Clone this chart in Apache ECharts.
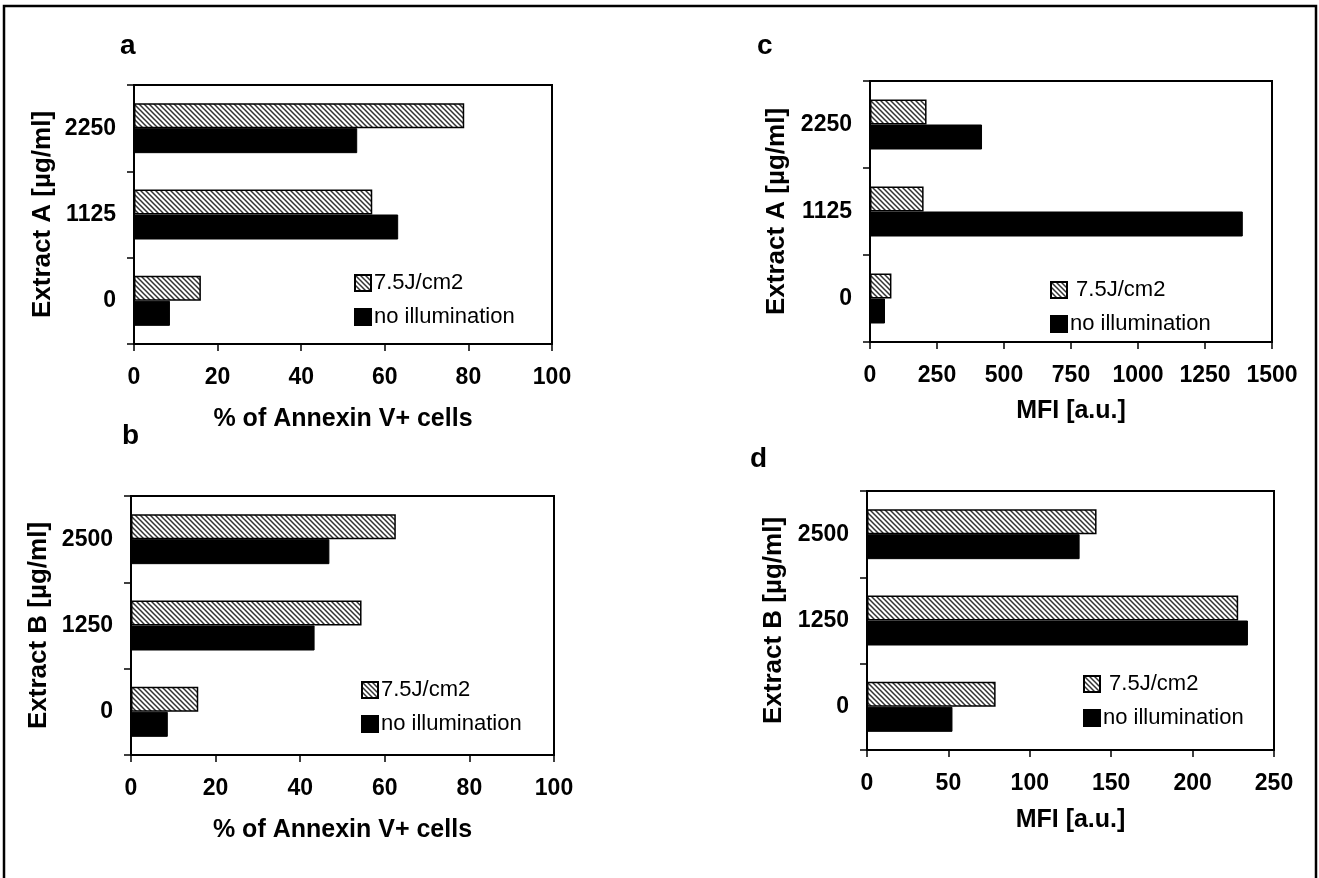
<!DOCTYPE html>
<html>
<head>
<meta charset="utf-8">
<script src="https://cdn.jsdelivr.net/npm/echarts@6/dist/echarts.min.js"></script>
<style>
	html,body{margin:0;padding:0;background:#fff;}
	#fig{width:1319px;height:878px;}
</style>
</head>
<body>
<div id="fig"></div>
<script>
	// categories (bottom to top)
	var catsA = ['0','1125','2250']
	var catsB = ['0','1250','2500']
	// panel a : % Annexin V+, extract A
	var aLight = [16, 57, 79]
	var aDark = [8.6, 63.2, 53.4]
	// panel b : % Annexin V+, extract B
	var bLight = [15.9, 54.5, 62.6]
	var bDark = [8.7, 43.4, 46.9]
	// panel c : MFI, extract A
	var cLight = [80, 200, 211]
	var cDark = [56, 1391, 418]
	// panel d : MFI, extract B
	var dLight = [79, 228, 141]
	var dDark = [52.5, 234, 130.6]

	var LIGHT = '7.5J/cm2'
	var DARK = 'no illumination'
	var FONT = '"Liberation Sans", Arial, Helvetica, sans-serif'

	function hatch(){
		var c = document.createElement('canvas')
		c.width = 5; c.height = 5
		var ctx = c.getContext('2d')
		ctx.fillStyle = '#fff'
		ctx.fillRect(0,0,5,5)
		ctx.strokeStyle = '#333'
		ctx.lineWidth = 1.5
		ctx.beginPath()
		ctx.moveTo(-1,-1); ctx.lineTo(6,6)
		ctx.moveTo(-1,4); ctx.lineTo(1,6)
		ctx.moveTo(4,-1); ctx.lineTo(6,1)
		ctx.stroke()
		return c
	}
	var pat = {image: hatch(), repeat: 'repeat'}

	var grids = [
		{left:134, top:85, width:418, height:259},
		{left:870, top:81, width:402, height:261},
		{left:131, top:496, width:423, height:259},
		{left:867, top:491, width:407, height:259}
	]
	var xs = [
		{max:100, interval:20, name:'% of Annexin V+ cells', gap:63},
		{max:1500, interval:250, name:'MFI [a.u.]', gap:57},
		{max:100, interval:20, name:'% of Annexin V+ cells', gap:63},
		{max:250, interval:50, name:'MFI [a.u.]', gap:58}
	]
	var ys = [
		{cats:catsA, name:'Extract A [\u00b5g/ml]', gap:78},
		{cats:catsA, name:'Extract A [\u00b5g/ml]', gap:80},
		{cats:catsB, name:'Extract B [\u00b5g/ml]', gap:79},
		{cats:catsB, name:'Extract B [\u00b5g/ml]', gap:80}
	]
	var vals = [[aLight,aDark],[cLight,cDark],[bLight,bDark],[dLight,dDark]]
	var legendPos = [
		{left:354, top:272, space:false},
		{left:1050, top:279, space:true},
		{left:361, top:679, space:false},
		{left:1083, top:673, space:true}
	]
	var letters = [
		{t:'a', x:120, y:32},
		{t:'c', x:757, y:32},
		{t:'b', x:122, y:422},
		{t:'d', x:750, y:445}
	]

	var chart = echarts.init(document.getElementById('fig'))
	var option = {
		animation:false,
		backgroundColor:'#fff',
		textStyle:{fontFamily:FONT},
		grid:[], xAxis:[], yAxis:[], series:[], legend:[], title:[],
		graphic:[{
			type:'rect', shape:{x:4, y:6, width:1312, height:900},
			style:{fill:'none', stroke:'#000', lineWidth:2.5}
		}]
	}

	for(var i=0;i<4;i++){
		var g = grids[i]
		option.grid.push({left:g.left, top:g.top, width:g.width, height:g.height,
			show:true, borderColor:'#000', borderWidth:2, backgroundColor:'#fff'})
		option.xAxis.push({
			type:'value', gridIndex:i, min:0, max:xs[i].max, interval:xs[i].interval,
			name:xs[i].name, nameLocation:'middle', nameGap:xs[i].gap,
			nameTextStyle:{fontSize:25, fontWeight:'bold', color:'#000', fontFamily:FONT},
			axisLine:{show:true, lineStyle:{color:'#000', width:2}},
			axisTick:{show:true, length:7, lineStyle:{color:'#000', width:1.5}},
			axisLabel:{fontSize:23, fontWeight:'bold', color:'#000', margin:22, fontFamily:FONT,
				formatter:function(v){ return String(v) }},
			splitLine:{show:false}
		})
		option.yAxis.push({
			type:'category', gridIndex:i, data:ys[i].cats,
			name:ys[i].name, nameLocation:'middle', nameGap:ys[i].gap, nameRotate:90,
			nameTextStyle:{fontSize:26, fontWeight:'bold', color:'#000', fontFamily:FONT},
			axisLine:{show:true, lineStyle:{color:'#000', width:2}},
			axisTick:{show:true, length:7, interval:0, lineStyle:{color:'#000', width:1.5}},
			axisLabel:{fontSize:23, fontWeight:'bold', color:'#000', margin:18, fontFamily:FONT},
			splitLine:{show:false}
		})
		option.series.push({
			name:LIGHT, type:'bar', xAxisIndex:i, yAxisIndex:i,
			barWidth:25, barGap:'0%', data:vals[i][0],
			itemStyle:{color:pat, borderColor:'#000', borderWidth:1.5}
		})
		option.series.push({
			name:DARK, type:'bar', xAxisIndex:i, yAxisIndex:i,
			barWidth:25, barGap:'0%', data:vals[i][1],
			itemStyle:{color:'#000', borderColor:'#000', borderWidth:1}
		})
		var lp = legendPos[i]
		option.legend.push({
			data:[LIGHT, DARK], orient:'vertical', left:lp.left, top:lp.top,
			padding:0, itemWidth:16, itemHeight:16, itemGap:12, icon:'rect',
			selectedMode:false,
			formatter:(function(sp){ return function(n){ return (sp && n==LIGHT) ? ' '+n : n } })(lp.space),
			textStyle:{fontSize:22, color:'#000', fontFamily:FONT, padding:[0,0,0,-2]}
		})
		option.title.push({
			text:letters[i].t, left:letters[i].x, top:letters[i].y, padding:0,
			textStyle:{fontSize:28, fontWeight:'bold', color:'#000', fontFamily:FONT}
		})
	}

	chart.setOption(option)
</script>
</body>
</html>
